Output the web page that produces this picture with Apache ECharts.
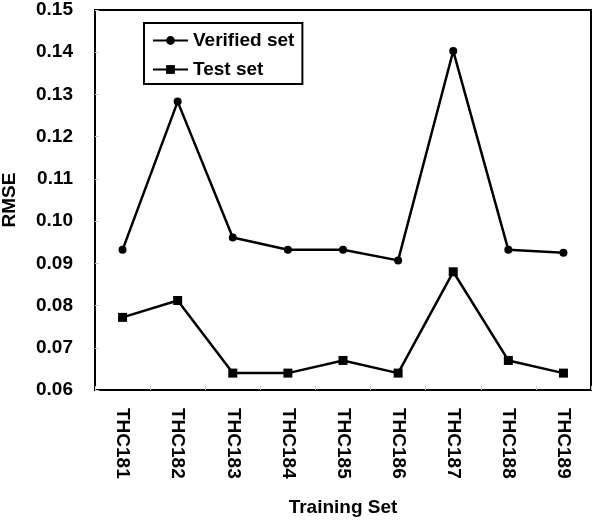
<!DOCTYPE html>
<html>
<head>
<meta charset="utf-8">
<script src="https://cdn.jsdelivr.net/npm/echarts@6/dist/echarts.min.js"></script>
<style>html,body{margin:0;padding:0;background:#fff;}#c{width:600px;height:527px;}</style>
</head>
<body>
<div id="c"></div>
<script>
const categories = ['THC181','THC182','THC183','THC184','THC185','THC186','THC187','THC188','THC189'];
const verifiedSet = [0.0932, 0.1283, 0.0961, 0.0932, 0.0932, 0.0907, 0.1403, 0.0932, 0.0925];
const testSet = [0.0772, 0.0812, 0.0640, 0.0640, 0.0670, 0.0640, 0.0880, 0.0670, 0.0640];
const yTicks = {min: 0.06, max: 0.15, interval: 0.01};

const FONT = '"Liberation Sans", Arial, sans-serif';
const chart = echarts.init(document.getElementById('c'));
chart.setOption({
  animation: false,
  backgroundColor: '#fff',
  grid: {left: 95, top: 10, right: 9, bottom: 137, outerBoundsMode: 'none', containLabel: false,
    show: true, borderColor: '#000', borderWidth: 2, backgroundColor: 'transparent'},
  legend: {
    left: 144, top: 23, orient: 'vertical',
    borderColor: '#000', borderWidth: 2, padding: [8, 8, 5, 8],
    itemWidth: 35, itemHeight: 11, itemGap: 10,
    textStyle: {fontFamily: FONT, fontWeight: 'bold', fontSize: 19, color: '#000'},
    data: ['Verified set', 'Test set']
  },
  xAxis: {
    type: 'category', data: categories, boundaryGap: true,
    name: 'Training Set', nameLocation: 'middle', nameGap: 108,
    nameTextStyle: {fontFamily: FONT, fontWeight: 'bold', fontSize: 19, color: '#000'},
    axisLine: {lineStyle: {color: '#000', width: 2}},
    axisTick: {show: true, inside: true, length: 4, lineStyle: {color: '#ccc'}},
    axisLabel: {rotate: -90, margin: 18, fontFamily: FONT, fontWeight: 'bold', fontSize: 19, color: '#000'},
    splitLine: {show: false}
  },
  yAxis: {
    type: 'value', min: yTicks.min, max: yTicks.max, interval: yTicks.interval,
    name: 'RMSE', nameLocation: 'middle', nameGap: 76,
    nameTextStyle: {fontFamily: FONT, fontWeight: 'bold', fontSize: 19, color: '#000'},
    axisLine: {show: true, lineStyle: {color: '#000', width: 2}},
    axisTick: {show: true, inside: true, length: 4, lineStyle: {color: '#ccc'}},
    axisLabel: {margin: 22, fontFamily: FONT, fontWeight: 'bold', fontSize: 19, color: '#000',
      formatter: v => v.toFixed(2)},
    splitLine: {show: false}
  },
  series: [
    {name: 'Verified set', type: 'line', data: verifiedSet, symbol: 'circle', symbolSize: 8,
      lineStyle: {color: '#000', width: 2.5}, itemStyle: {color: '#000'}},
    {name: 'Test set', type: 'line', data: testSet, symbol: 'rect', symbolSize: 9,
      lineStyle: {color: '#000', width: 2.5}, itemStyle: {color: '#000'}}
  ]
});
</script>
</body>
</html>
